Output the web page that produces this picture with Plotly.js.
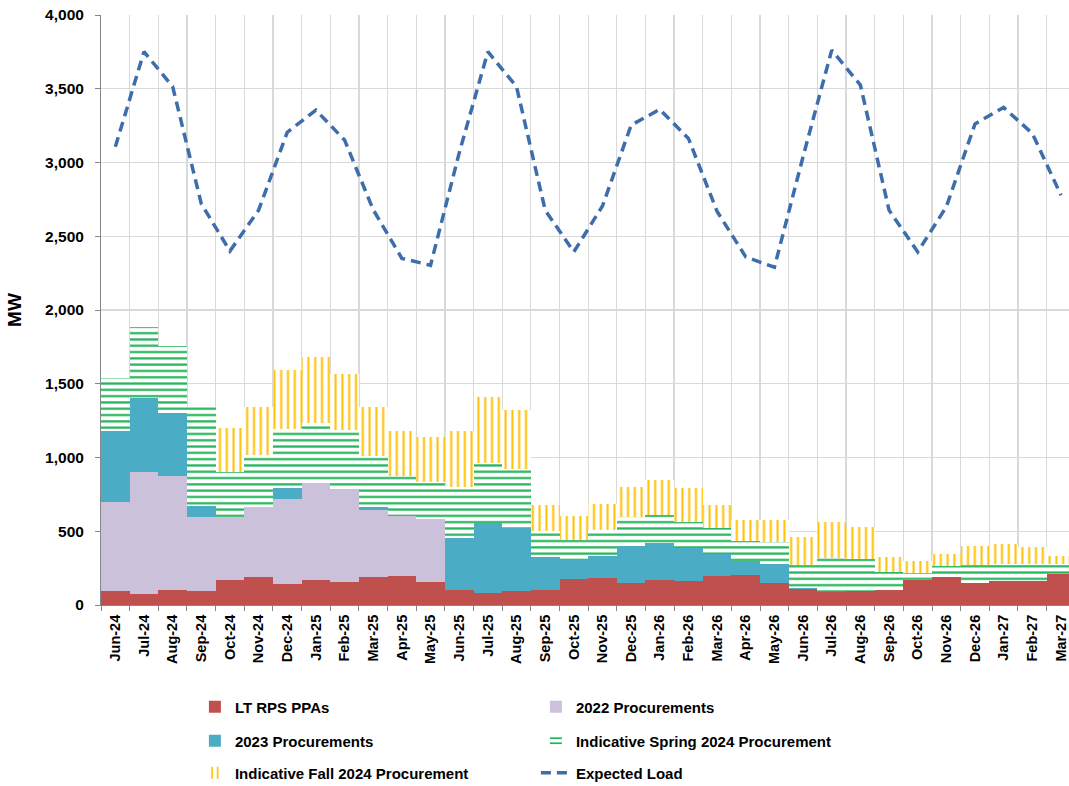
<!DOCTYPE html>
<html>
<head>
<meta charset="utf-8">
<script src="https://cdn.plot.ly/plotly-3.0.1.min.js"></script>
<style>
  html, body { margin: 0; padding: 0; background: #fff; }
  #chart { width: 1069px; height: 786px; }
</style>
</head>
<body>
<div id="chart"></div>
<script>
const months = ["Jun-24","Jul-24","Aug-24","Sep-24","Oct-24","Nov-24","Dec-24","Jan-25","Feb-25","Mar-25","Apr-25","May-25",
  "Jun-25","Jul-25","Aug-25","Sep-25","Oct-25","Nov-25","Dec-25","Jan-26","Feb-26","Mar-26","Apr-26","May-26",
  "Jun-26","Jul-26","Aug-26","Sep-26","Oct-26","Nov-26","Dec-26","Jan-27","Feb-27","Mar-27"];

const ltRpsPpas = [95,77,99,93,172,188,140,172,158,188,197,154,
  102,79,97,104,178,185,149,169,163,199,203,151,
  106,86,97,102,169,192,152,165,165,210];

const proc2022 = [605,827,778,506,427,479,579,657,631,454,406,429,
  0,0,0,0,0,0,0,0,0,0,0,0,
  0,0,0,0,0,0,0,0,0,0];

const proc2023 = [480,499,427,72,0,0,76,0,0,22,0,0,
  350,479,427,221,126,150,251,249,226,147,98,127,
  8,0,0,0,0,0,0,0,0,0];

const spring2024 = [357,480,450,674,301,350,396,403,397,348,272,249,
  350,407,396,177,139,173,194,192,176,174,135,147,
  154,230,215,124,46,72,116,111,111,66];

const fall2024 = [0,0,0,0,302,325,402,447,382,330,305,305,
  378,443,402,178,160,177,206,237,226,156,143,154,
  191,247,214,102,80,81,132,138,115,58];

const expectedLoad = [3106,3751,3515,2720,2400,2677,3205,3355,3152,2680,2350,2303,
  3065,3751,3514,2677,2394,2705,3253,3360,3163,2668,2360,2290,
  3040,3762,3525,2677,2394,2700,3262,3373,3197,2778];

const FONT = "Liberation Sans, Arial, sans-serif";

const traces = [
  {type: "bar", name: "LT RPS PPAs", x: months, y: ltRpsPpas,
   marker: {color: "#c0504d", line: {width: 0}}, legend: "legend"},
  {type: "bar", name: "2022 Procurements", x: months, y: proc2022,
   marker: {color: "#ccc1da", line: {width: 0}}, legend: "legend"},
  {type: "bar", name: "2023 Procurements", x: months, y: proc2023,
   marker: {color: "#4bacc6", line: {width: 0}}, legend: "legend2"},
  {type: "bar", name: "Indicative Spring 2024 Procurement", x: months, y: spring2024,
   marker: {color: "#22b459", line: {width: 0},
     pattern: {shape: "-", fgcolor: "#22b459", bgcolor: "#ffffff", size: 6.3, solidity: 0.35}},
   legend: "legend2"},
  {type: "bar", name: "Indicative Fall 2024 Procurement", x: months, y: fall2024,
   marker: {color: "#ffc000", line: {width: 0},
     pattern: {shape: "|", fgcolor: "#ffc000", bgcolor: "#ffffff", size: 6.8, solidity: 0.3}},
   legend: "legend3"},
  {type: "scatter", mode: "lines", name: "Expected Load", x: months, y: expectedLoad,
   line: {color: "#3e6dab", width: 3.5, dash: "10px,6px"}, legend: "legend3"}
];

const legendBase = {
  orientation: "h", entrywidth: 296, entrywidthmode: "pixels",
  x: 0.097, xanchor: "left", yanchor: "middle",
  font: {family: FONT, size: 15, color: "#000", weight: 700},
  bgcolor: "rgba(0,0,0,0)", itemwidth: 30, traceorder: "normal"
};

const layout = {
  width: 1069, height: 786,
  margin: {l: 101, r: 0, t: 15, b: 181, autoexpand: false},
  paper_bgcolor: "#fff", plot_bgcolor: "#fff",
  barmode: "stack", bargap: 0,
  font: {family: FONT, size: 14, color: "#000", weight: 700},
  showlegend: true,
  xaxis: {
    type: "category", categoryorder: "array", categoryarray: months,
    range: [-0.5, 33.28], tickson: "boundaries", ticks: "outside", ticklen: 5,
    tickcolor: "#868686", showgrid: true, gridcolor: "#d9d9d9", gridwidth: 1.3,
    showline: true, linecolor: "#868686", linewidth: 1,
    tickangle: -90, ticklabelstandoff: 3,
    tickfont: {family: FONT, size: 14.5, color: "#000", weight: 700},
    fixedrange: true
  },
  yaxis: {
    range: [0, 4000], dtick: 500, tickformat: ",d",
    ticks: "outside", ticklen: 5, tickcolor: "#868686",
    showgrid: true, gridcolor: "#d9d9d9", gridwidth: 1.3,
    showline: true, linecolor: "#868686", linewidth: 1,
    zeroline: false, ticklabelstandoff: 8,
    tickfont: {family: FONT, size: 15.5, color: "#000", weight: 700},
    title: {text: "MW", font: {family: FONT, size: 19, color: "#000", weight: 700}, standoff: 18},
    fixedrange: true
  },
  legend: Object.assign({}, legendBase, {y: -0.1729}),
  legend2: Object.assign({}, legendBase, {y: -0.2305}),
  legend3: Object.assign({}, legendBase, {y: -0.2847})
};

Plotly.newPlot("chart", traces, layout, {displayModeBar: false, staticPlot: true});
</script>
</body>
</html>
